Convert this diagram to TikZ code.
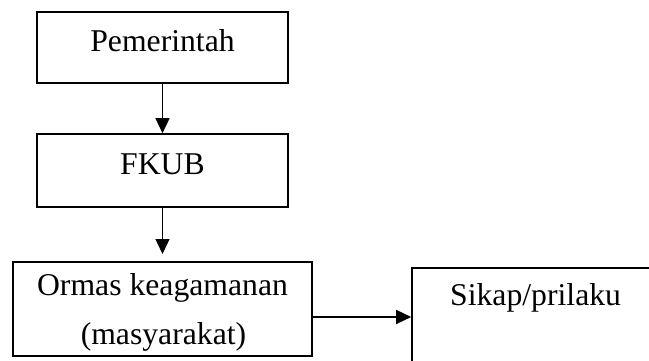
\documentclass[tikz,border=0pt]{standalone}
\usepackage{fontspec}
\setmainfont{Liberation Serif}
\usetikzlibrary{arrows.meta}
\begin{document}
\begin{tikzpicture}[x=1pt,y=-1pt,
  box/.style={draw=black,line width=1.6pt,fill=none,inner sep=0pt},
  lbl/.style={inner sep=0pt,anchor=base,font=\fontsize{31.7}{36}\selectfont},
  arr/.style={line width=1.4pt,-{Triangle[length=15pt,width=14pt]}}]
\useasboundingbox (0,0) rectangle (649,361);
\clip (0,0) rectangle (649,361);
\fill[white] (0,0) rectangle (649,361);
\node[box,minimum width=251pt,minimum height=71pt] (p) at (162.5,47.5) {};
\node[box,minimum width=251pt,minimum height=73pt] (f) at (162.5,170.5) {};
\node[box,minimum width=299pt,minimum height=94pt] (o) at (162.5,309) {};
\node[box,minimum width=250pt,minimum height=110pt] (s) at (537,323) {};
\node[lbl] (pt) at (162.5,52) {Pemerintah};
\node[lbl] (ft) at (162.5,175) {FKUB};
\node[lbl] (ot1) at (162.5,295) {Ormas keagamanan};
\node[lbl] (ot2) at (163.5,344) {(masyarakat)};
\node[lbl,anchor=base west] (st) at (450,305) {Sikap/prilaku};
\coordinate (fe) at (162.5,254);
\draw[arr] (p.south) -- (f.north);
\draw[arr] (f.south) -- (fe);
\coordinate (oa) at ([yshift=-8pt]o.east);
\draw[arr] (oa) -- (oa -| s.west);
\end{tikzpicture}
\end{document}
